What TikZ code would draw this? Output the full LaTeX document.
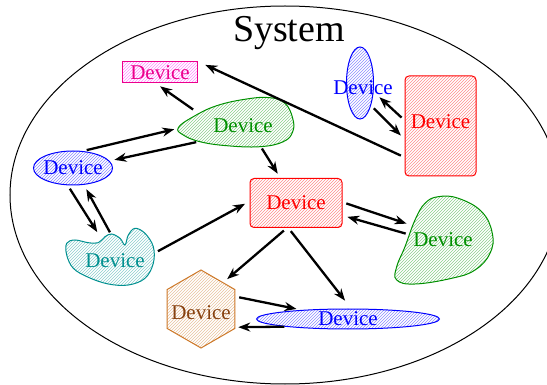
\documentclass[tikz,border=0pt]{standalone}
\usepackage{fontspec}
\setmainfont{Liberation Serif}
\usetikzlibrary{shapes.geometric,patterns,arrows.meta}

\definecolor{figgreen}{RGB}{0,144,0}
\definecolor{figteal}{RGB}{0,144,144}
\definecolor{hexline}{RGB}{205,120,40}
\definecolor{hextext}{RGB}{135,65,15}

\begin{document}
\begin{tikzpicture}[x=1pt, y=-1pt,
    dev/.style={font=\fontsize{21}{24}\selectfont, inner sep=0pt, line width=1pt},
    hatch/.style={pattern=north east lines, pattern color=#1!45},
    blob/.style={ellipse, inner sep=0pt},
    flow/.style={line width=2.3pt, -{Stealth[length=12pt,width=9pt]}, shorten >=5pt, shorten <=4pt}]
    \useasboundingbox (0,0) rectangle (547,385);
    \clip (0,0) rectangle (547,385);

    \draw[line width=1pt] (285,195) ellipse [x radius=275pt, y radius=189pt];
    \node[font=\fontsize{38}{44}\selectfont, anchor=base] (sys) at (289,42) {System};

    \draw[figgreen, line width=1pt, hatch=figgreen] plot[smooth cycle, tension=0.7] coordinates {(178.3,127.7) (193.3,116.7) (216.7,105.7) (246.7,99) (270,97.7) (285,103.3) (292.7,118.3) (292.7,131.7) (283.3,141.7) (260,146.7) (226.7,145.7) (200,141.7) (183.3,135)};
    \draw[figteal, line width=1pt, hatch=figteal] plot[smooth cycle, tension=0.6] coordinates {(66.7,243.3) (75,240) (88.3,242.7) (98.3,242.7) (105,236.7) (111.7,234) (120,238.3) (125,245) (128.3,235) (135,228.3) (145,233.3) (153.3,246.7) (153.3,263.3) (145,278.3) (128.3,285) (108.3,284) (88.3,277.3) (73.3,268.3) (66.7,255)};
    \draw[figgreen, line width=1pt, hatch=figgreen] plot[smooth cycle, tension=0.7] coordinates {(438.3,196.7) (458.3,198.3) (481.7,211.7) (492.3,233.3) (490,253.3) (475,270) (451.7,278.3) (415,284) (396.7,280) (396.7,266.7) (405,246.7) (415,220) (425,203.3)};

    \node[dev, draw=magenta, hatch=magenta, text=magenta, minimum width=75pt, minimum height=21pt] (mag) at (160,72.5) {Device};
    \node[blob, minimum width=122pt, minimum height=40pt, label={[dev, text=figgreen, xshift=3pt]center:Device}] (grT) at (240,126) {};
    \node[dev, ellipse, inner xsep=-6pt, draw=blue, hatch=blue, text=blue, minimum width=79pt, minimum height=34pt] (blueL) at (73,168) {Device};
    \node[blob, minimum width=90pt, minimum height=42pt, label={[dev, text=figteal, xshift=5pt, yshift=-4pt]center:Device}] (teal) at (110,257) {};
    \node[dev, draw=red, hatch=red, text=red, rounded corners=4pt, minimum width=92pt, minimum height=49pt] (redC) at (296,203) {Device};
    \node[blob, minimum width=67pt, minimum height=86pt, label={[dev, text=figgreen]center:Device}] (grR) at (443,240) {};
    \node[dev, draw=red, hatch=red, text=red, rounded corners=4pt, minimum width=71pt, minimum height=100pt, label={[dev, text=red, yshift=4pt]center:Device}] (redR) at (440.5,126) {};
    \node[dev, ellipse, draw=blue, hatch=blue, minimum width=27pt, minimum height=72pt, label={[dev, text=blue, xshift=3pt, yshift=-5pt]center:Device}] (blueV) at (360,83) {};
    \node[dev, regular polygon, regular polygon sides=6, shape border rotate=30, draw=hexline, hatch=hexline, minimum size=78pt, label={[dev, text=hextext, yshift=-4pt]center:Device}] (hex) at (201,309) {};
    \node[dev, ellipse, draw=blue, hatch=blue, text=blue, minimum width=183pt, minimum height=20pt] (blueB) at (348,319) {Device};

    \draw[flow] (grT.162) -- (mag.250);
    \draw[flow, shorten >=8pt] (redR.221) -- (mag.north east);
    \draw[flow, shorten >=8pt] (redR.171) -- (blueV.327);
    \draw[flow] (blueV.296) -- (redR.200);
    \draw[flow] (blueL.60) -- (grT.182);
    \draw[flow] (grT.201) -- (blueL.11);
    \draw[flow] (grT.316) -- (redC.122);
    \draw[flow] (blueL.253) -- (teal.116);
    \draw[flow] (teal.85) -- (blueL.303);
    \draw[flow] (teal.5) -- (redC.178);
    \draw[flow] (redC.1) -- (grR.155);
    \draw[flow] (grR.171) -- (redC.345);
    \draw[flow] (redC.250) -- (hex.50);
    \draw[flow, shorten >=10pt] (redC.253) -- (blueB.73);
    \draw[flow] (hex.20) -- (blueB.169);
    \draw[flow, shorten <=1pt, shorten >=3pt] (blueB.187) -- (hex.332);
\end{tikzpicture}
\end{document}
